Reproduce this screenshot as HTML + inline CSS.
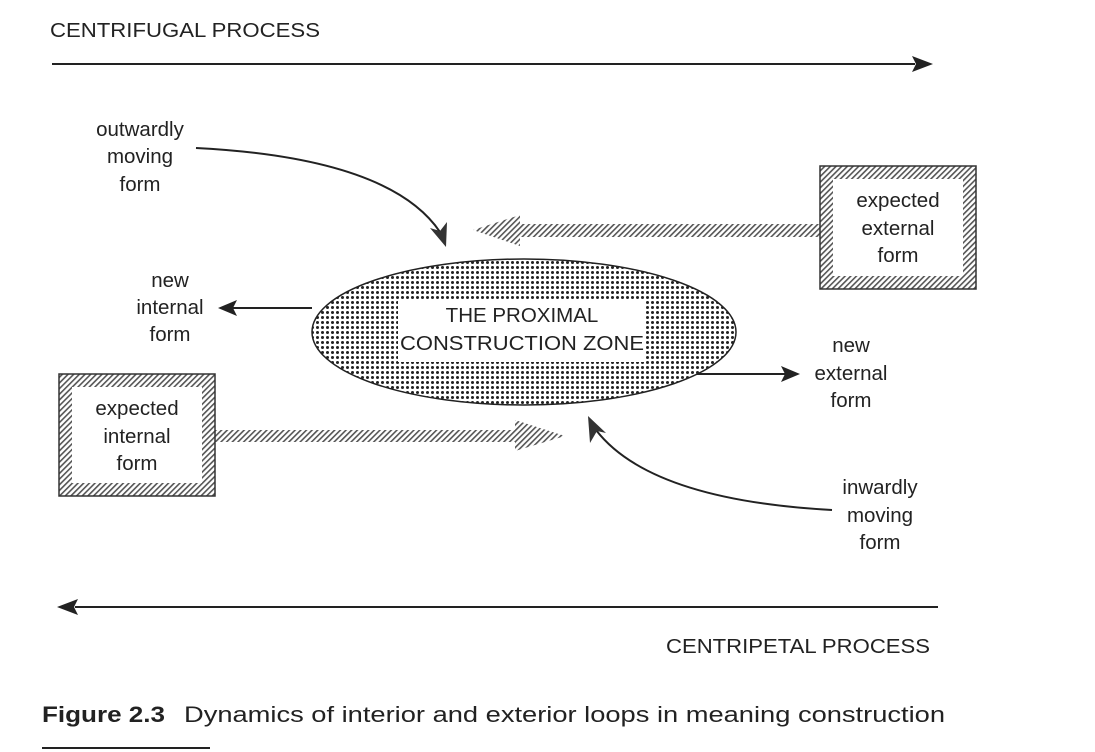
<!DOCTYPE html>
<html><head><meta charset="utf-8"><style>
html,body{margin:0;padding:0;background:#fff;}
svg{display:block;}
text{font-family:"Liberation Sans",sans-serif;fill:#222;}
</style></head><body>
<svg width="1095" height="752" viewBox="0 0 1095 752" xmlns="http://www.w3.org/2000/svg">
<defs>
<pattern id="hatch" width="4" height="4" patternUnits="userSpaceOnUse" patternTransform="rotate(45)">
<rect width="4" height="4" fill="#fff"/><rect width="1.6" height="4" fill="#555"/>
</pattern>
<pattern id="dots" width="5" height="5" patternUnits="userSpaceOnUse">
<rect width="5" height="5" fill="#fff"/><circle cx="2.5" cy="2.5" r="1.5" fill="#222"/>
</pattern>
</defs>

<text x="50" y="37" font-size="20" textLength="270" lengthAdjust="spacingAndGlyphs">CENTRIFUGAL PROCESS</text>
<line x1="52" y1="64" x2="915" y2="64" stroke="#222" stroke-width="2"/>
<polygon points="912,56 933,64 912,72 916,64" fill="#222"/>

<line x1="938" y1="607" x2="75" y2="607" stroke="#222" stroke-width="2"/>
<polygon points="78,599 57,607 78,615 74,607" fill="#222"/>
<text x="666" y="653" font-size="20" textLength="264" lengthAdjust="spacingAndGlyphs">CENTRIPETAL PROCESS</text>

<!-- outwardly curve -->
<path d="M196,148 Q390,158 440,232" fill="none" stroke="#222" stroke-width="2"/>
<polygon points="430,228 446,247 447,222 440,231" fill="#333"/>
<g font-size="20.5" text-anchor="middle">
<text x="140" y="136">outwardly</text><text x="140" y="163">moving</text><text x="140" y="191">form</text>
<text x="170" y="287">new</text><text x="170" y="314">internal</text><text x="170" y="341">form</text>
<text x="851" y="352">new</text><text x="851" y="380">external</text><text x="851" y="407">form</text>
<text x="880" y="494">inwardly</text><text x="880" y="522">moving</text><text x="880" y="549">form</text>
</g>

<!-- hatched arrows -->
<polygon points="820,224 520,224 520,215 473,230 520,246 520,237 820,237" fill="url(#hatch)"/>
<polygon points="215,430 515,430 515,420 565,436 515,451 515,442 215,442" fill="url(#hatch)"/>

<!-- boxes -->
<rect x="820" y="166" width="156" height="123" fill="url(#hatch)" stroke="#333" stroke-width="1.5"/>
<rect x="833" y="179" width="130" height="97" fill="#fff"/>
<g font-size="20.5" text-anchor="middle">
<text x="898" y="207">expected</text><text x="898" y="235">external</text><text x="898" y="262">form</text>
</g>
<rect x="59" y="374" width="156" height="122" fill="url(#hatch)" stroke="#333" stroke-width="1.5"/>
<rect x="72" y="387" width="130" height="96" fill="#fff"/>
<g font-size="20.5" text-anchor="middle">
<text x="137" y="415">expected</text><text x="137" y="443">internal</text><text x="137" y="470">form</text>
</g>

<!-- ellipse -->
<ellipse cx="524" cy="332" rx="212" ry="73" fill="url(#dots)" stroke="#222" stroke-width="1.5"/>
<rect x="398" y="300" width="248" height="62" fill="#fff"/>
<g font-size="20.5" text-anchor="middle">
<text x="522" y="322">THE PROXIMAL</text><text x="522" y="350" textLength="244" lengthAdjust="spacingAndGlyphs">CONSTRUCTION ZONE</text>
</g>

<!-- new internal arrow -->
<line x1="312" y1="308" x2="232" y2="308" stroke="#222" stroke-width="2"/>
<polygon points="237,300 218,308 237,316 233,308" fill="#222"/>
<!-- new external arrow -->
<line x1="697" y1="374" x2="785" y2="374" stroke="#222" stroke-width="2"/>
<polygon points="781,366 800,374 781,382 785,374" fill="#222"/>

<!-- inwardly curve -->
<path d="M832,510 Q650,500 596,430" fill="none" stroke="#222" stroke-width="2"/>
<polygon points="588,416 590,443 597,431 606,433" fill="#333"/>

<!-- caption -->
<text x="42" y="722" font-size="22" font-weight="bold" textLength="123" lengthAdjust="spacingAndGlyphs">Figure 2.3</text>
<text x="184" y="722" font-size="22" textLength="761" lengthAdjust="spacingAndGlyphs">Dynamics of interior and exterior loops in meaning construction</text>
<line x1="42" y1="748" x2="210" y2="748" stroke="#222" stroke-width="2"/>
</svg>
</body></html>
